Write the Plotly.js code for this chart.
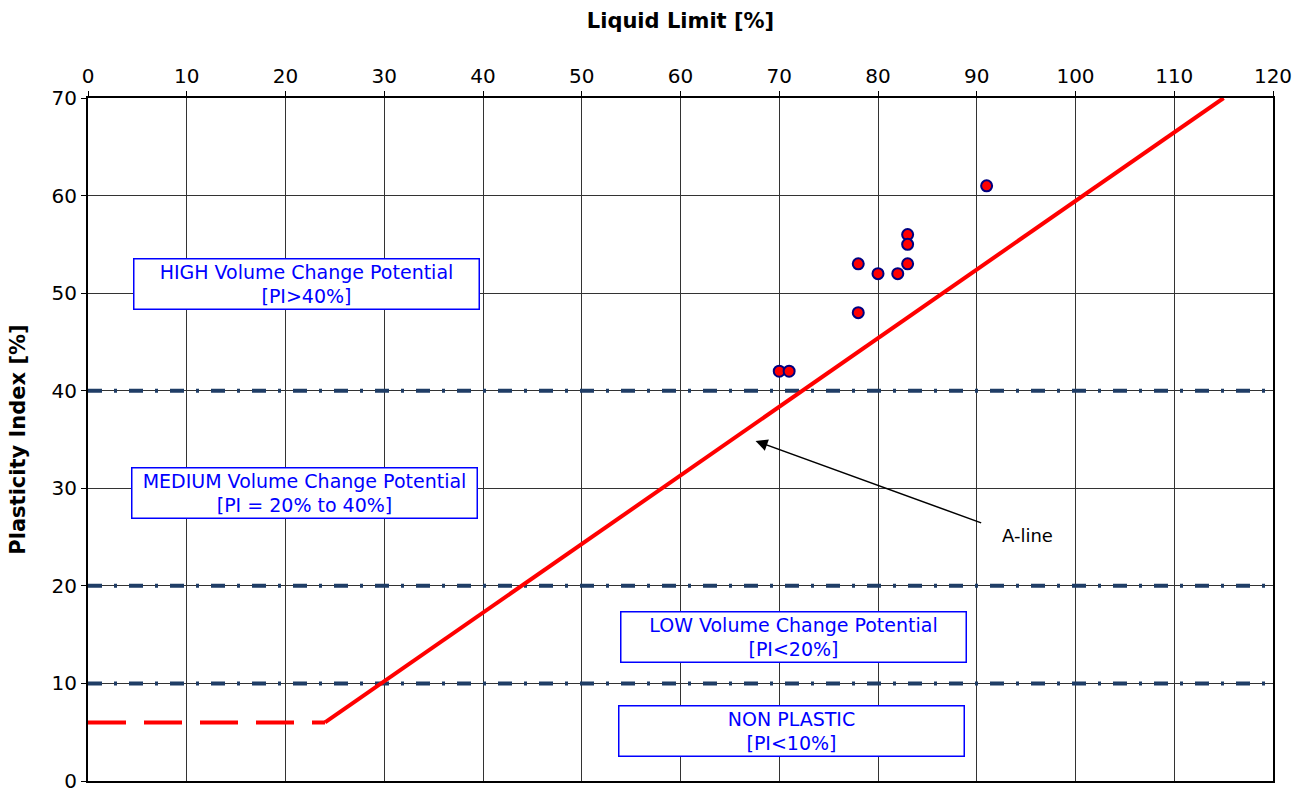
<!DOCTYPE html>
<html>
<head>
<meta charset="utf-8">
<script src="https://cdn.plot.ly/plotly-3.0.1.min.js"></script>
<style>html,body{margin:0;padding:0;background:#fff;}#chart{width:1311px;height:789px;}</style>
</head>
<body>
<div id="chart"></div>
<script>
// Sample data: Liquid Limit vs Plasticity Index
const liquidLimit = [70, 71, 78, 78, 80, 82, 83, 83, 83, 91];
const plasticityIndex = [42, 42, 53, 48, 52, 52, 56, 55, 53, 61];

// A-line (solid part) and lower dashed part
const aLineX = [24, 115];
const aLineY = [6, 70];
const lowX = [0, 24];
const lowY = [6, 6];

// Volume change boundaries
const boundaryLevels = [10, 20, 40];
const xRange = [0, 120];
const yRange = [0, 70];
const xTicks = [0, 10, 20, 30, 40, 50, 60, 70, 80, 90, 100, 110, 120];
const yTicks = [0, 10, 20, 30, 40, 50, 60, 70];

const zoneLabels = [
  {text: "HIGH Volume Change Potential<br>[PI>40%]", x: 22.1, y: 50.9},
  {text: "MEDIUM Volume Change Potential<br>[PI = 20% to 40%]", x: 21.9, y: 29.5},
  {text: "LOW Volume Change Potential<br>[PI<20%]", x: 71.4, y: 14.8},
  {text: "NON PLASTIC<br>[PI<10%]", x: 71.2, y: 5.1}
];

const FONT = 'DejaVu Sans, Verdana, sans-serif';
const traces = [];
boundaryLevels.forEach(v => {
  traces.push({
    x: xRange, y: [v, v], mode: 'lines', type: 'scatter', hoverinfo: 'skip',
    line: {color: '#1f3d66', width: 4, dash: '14px,12px,3px,12px'}, showlegend: false
  });
});
traces.push({x: lowX, y: lowY, mode: 'lines', type: 'scatter',
  line: {color: '#ff0000', width: 4, dash: '38px,18px'}, showlegend: false});
traces.push({x: aLineX, y: aLineY, mode: 'lines', type: 'scatter',
  line: {color: '#ff0000', width: 4}, showlegend: false});
traces.push({x: liquidLimit, y: plasticityIndex, mode: 'markers', type: 'scatter',
  marker: {color: '#ff0000', size: 11, line: {color: '#000080', width: 2}}, showlegend: false});

const annotations = zoneLabels.map(z => ({
  x: z.x, y: z.y, xref: 'x', yref: 'y', text: z.text, showarrow: false,
  font: {family: FONT, size: 19, color: '#0000ff'},
  bgcolor: '#ffffff', bordercolor: '#0000ff', borderwidth: 1.5, borderpad: 1,
  width: 342, height: 47, align: 'center'
}));
annotations.push({
  x: 67.6, y: 34.85, ax: 90.6, ay: 26.4, axref: 'x', ayref: 'y', xref: 'x', yref: 'y',
  text: '', showarrow: true, arrowhead: 2, arrowsize: 1.6, arrowwidth: 1.5, arrowcolor: '#000'
});
annotations.push({
  x: 95.1, y: 25.2, xref: 'x', yref: 'y', text: 'A-line', showarrow: false,
  font: {family: FONT, size: 18, color: '#000'}
});

const layout = {
  width: 1311, height: 789,
  margin: {l: 88, r: 38, t: 98, b: 8},
  paper_bgcolor: '#fff', plot_bgcolor: '#fff',
  font: {family: FONT, size: 20, color: '#000'},
  xaxis: {
    side: 'top', range: xRange, tickvals: xTicks, ticks: 'outside', ticklen: 5, tickcolor: '#000',
    showgrid: true, gridcolor: '#333', gridwidth: 1, zeroline: false,
    showline: true, linecolor: '#000', linewidth: 2, mirror: true,
    title: {text: '<b>Liquid Limit [%]</b>', font: {size: 21}, standoff: 30},
    tickfont: {size: 20}, automargin: false, ticklabeloverflow: 'allow'
  },
  yaxis: {
    range: yRange, tickvals: yTicks, ticks: 'outside', ticklen: 5, tickcolor: '#000',
    showgrid: true, gridcolor: '#333', gridwidth: 1, zeroline: false,
    showline: true, linecolor: '#000', linewidth: 2, mirror: true,
    title: {text: '<b>Plasticity Index [%]</b>', font: {size: 21}, standoff: 20},
    tickfont: {size: 20}, automargin: false, ticklabeloverflow: 'allow'
  },
  annotations: annotations,
  showlegend: false
};

Plotly.newPlot('chart', traces, layout, {displayModeBar: false, staticPlot: true});
</script>
</body>
</html>
